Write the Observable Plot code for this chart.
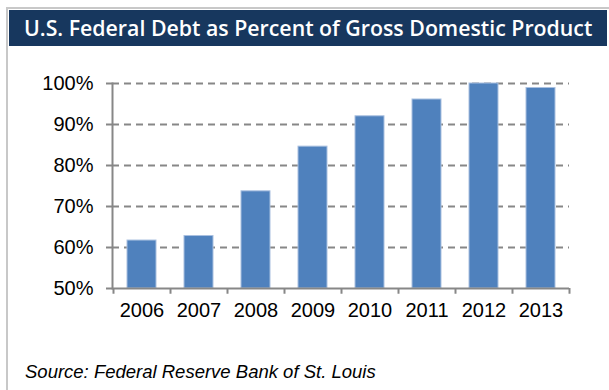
<!DOCTYPE html>
<html>
<head>
<meta charset="utf-8">
<script src="https://cdn.jsdelivr.net/npm/d3@7"></script>
<script src="https://cdn.jsdelivr.net/npm/@observablehq/plot@0.6"></script>
<style>
  html, body { margin: 0; padding: 0; background: #fff; }
  #wrap { position: relative; width: 609px; height: 390px; overflow: hidden; }
  #border { position: absolute; left: 6px; top: 7px; width: 620px; height: 400px;
    border-left: 2px solid #c8c8c8; border-top: 2px solid #c8c8c8; }
  #title { position: absolute; left: 9px; top: 10px; width: 598px; height: 36px;
    background: #17375e; color: #fff; font-family: "Open Sans", sans-serif; font-weight: 600;
    font-size: 21.3px; line-height: 36px; white-space: nowrap; }
  #title span { position: absolute; left: 15px; top: 0; }
  #chart { position: absolute; left: 0; top: 50px; }
  #caption { position: absolute; left: 25px; top: 361px; font-family: "Liberation Sans", Arial, sans-serif;
    font-style: italic; font-size: 18.5px; color: #000; white-space: nowrap; }
</style>
</head>
<body>
<div id="wrap">
  <div id="border"></div>
  <div id="title"><span>U.S. Federal Debt as Percent of Gross Domestic Product</span></div>
  <div id="chart"></div>
  <div id="caption">Source: Federal Reserve Bank of St. Louis</div>
</div>
<script>
const years = ["2006", "2007", "2008", "2009", "2010", "2011", "2012", "2013"];
const debtPct = [61.7, 62.8, 73.7, 84.6, 92.0, 96.1, 100.0, 98.9];
const yTicks = [50, 60, 70, 80, 90, 100];

const data = years.map((year, i) => ({year, value: debtPct[i]}));
const gray = "#878787";
const halfStep = 57 / 2;

const chart = Plot.plot({
  width: 609,
  height: 280,
  marginTop: 33,
  marginBottom: 42,
  marginLeft: 112,
  marginRight: 40,
  style: {fontFamily: "'Liberation Sans', Arial, sans-serif", fontSize: "20px", color: "#000", background: "transparent", overflow: "visible"},
  x: {domain: years, paddingInner: 0.5, paddingOuter: 0.25, align: 0.5},
  y: {domain: [50, 100]},
  marks: [
    Plot.ruleY(yTicks.filter(d => d > 50), {stroke: gray, strokeWidth: 2, strokeDasharray: "7,5"}),
    Plot.barY(data, {x: "year", y1: 50, y2: "value", fill: "#4f81bd", stroke: "#a9c0e0", strokeWidth: 1}),
    Plot.ruleY([50], {stroke: gray, strokeWidth: 2}),
    Plot.frame({anchor: "left", stroke: gray, strokeWidth: 2}),
    Plot.ruleX(years, {x: d => d, y1: 50, y2: 48.6, dx: -halfStep, stroke: gray, strokeWidth: 2}),
    Plot.ruleX(years.slice(-1), {x: d => d, y1: 50, y2: 48.6, dx: halfStep, stroke: gray, strokeWidth: 2}),
    Plot.axisY(yTicks, {tickSize: 6, tickPadding: 13, tickFormat: d => d + "%", stroke: gray, strokeWidth: 2, label: null, fill: "#000"}),
    Plot.axisX({tickSize: 0, tickPadding: 14, label: null, fill: "#000"})
  ]
});
document.getElementById("chart").appendChild(chart);
</script>
</body>
</html>
